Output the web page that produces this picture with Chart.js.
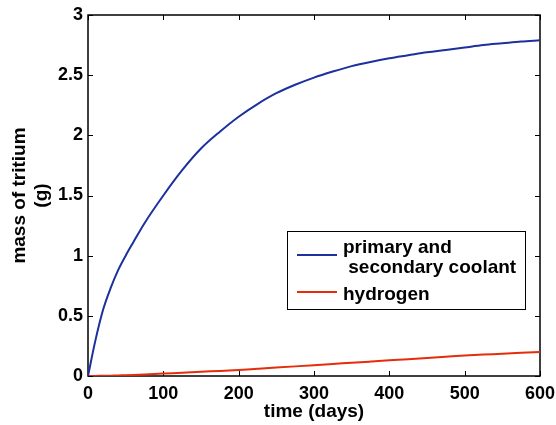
<!DOCTYPE html>
<html>
<head>
<meta charset="utf-8">
<script src="https://cdn.jsdelivr.net/npm/chart.js@4"></script>
<style>
    html, body { margin: 0; padding: 0; background: #fff; }
    #wrap { width: 556px; height: 425px; }
</style>
</head>
<body>
<div id="wrap"><canvas id="tritium-plot"></canvas></div>
<script>
// time in days
const days = [0, 10, 20, 30, 40, 50, 60, 75, 100, 125, 150, 175, 200, 225, 250, 275, 300,
              325, 350, 375, 400, 425, 450, 475, 500, 525, 550, 575, 600];
// mass of tritium (g)
const coolantMass = [0, 0.30, 0.55, 0.73, 0.88, 1.0, 1.11, 1.27, 1.50, 1.71, 1.89, 2.03, 2.155,
                     2.26, 2.35, 2.42, 2.48, 2.53, 2.575, 2.61, 2.64, 2.665, 2.69, 2.71, 2.73,
                     2.75, 2.765, 2.78, 2.79];
const hydrogenMass = [0, 0.001, 0.002, 0.003, 0.005, 0.006, 0.008, 0.012, 0.02, 0.027, 0.035, 0.042, 0.05,
                      0.06, 0.07, 0.08, 0.09, 0.1, 0.11, 0.12, 0.13, 0.14, 0.15, 0.16, 0.17,
                      0.178, 0.185, 0.193, 0.2];
const xTicks = [0, 100, 200, 300, 400, 500, 600];
const yTicks = [0, 0.5, 1, 1.5, 2, 2.5, 3];
const seriesLabels = [['primary and', ' secondary coolant'], ['hydrogen']];

function toPoints(values) {
    let pts = [];
    for (let i = 0; i < days.length; i++) {
        pts.push({x: days[i], y: values[i]});
    }
    return pts;
}

const FONT = "'Liberation Sans', Arial, sans-serif";
Chart.defaults.font.family = FONT;
Chart.defaults.font.weight = 'bold';
Chart.defaults.color = '#000';

// matlab style box with inward ticks
const boxPlugin = {
    id: 'box',
    beforeDatasetsDraw(chart) {
        const ctx = chart.ctx;
        const a = chart.chartArea;
        const xs = chart.scales.x, ys = chart.scales.y;
        ctx.save();
        ctx.strokeStyle = '#000';
        ctx.lineWidth = 1;
        ctx.beginPath();
        for (const t of xTicks) {
            const px = Math.round(xs.getPixelForValue(t)) + 0.5;
            ctx.moveTo(px, a.bottom); ctx.lineTo(px, a.bottom - 5);
            ctx.moveTo(px, a.top); ctx.lineTo(px, a.top + 5);
        }
        for (const t of yTicks) {
            const py = Math.round(ys.getPixelForValue(t)) + 0.5;
            ctx.moveTo(a.left, py); ctx.lineTo(a.left + 5, py);
            ctx.moveTo(a.right, py); ctx.lineTo(a.right - 5, py);
        }
        ctx.stroke();
        ctx.lineWidth = 1.5;
        ctx.strokeRect(a.left, a.top, a.right - a.left, a.bottom - a.top);
        ctx.restore();
    }
};

// legend box inside the axes
const legendPlugin = {
    id: 'boxLegend',
    afterDraw(chart) {
        const ctx = chart.ctx;
        ctx.save();
        ctx.fillStyle = '#fff';
        ctx.fillRect(287.5, 231.5, 238, 78);
        ctx.strokeStyle = '#000';
        ctx.lineWidth = 1;
        ctx.strokeRect(287.5, 231.5, 238, 78);
        ctx.font = 'bold 19px ' + FONT;
        ctx.textBaseline = 'alphabetic';
        ctx.fillStyle = '#000';
        const rows = [
            {lineY: 255, textY: [252.5, 272.5]},
            {lineY: 292, textY: [299.5]}
        ];
        chart.data.datasets.forEach((ds, i) => {
            const r = rows[i];
            ctx.strokeStyle = ds.borderColor;
            ctx.lineWidth = 2;
            ctx.beginPath();
            ctx.moveTo(297, r.lineY);
            ctx.lineTo(337, r.lineY);
            ctx.stroke();
            const lines = seriesLabels[i];
            for (let j = 0; j < lines.length; j++) {
                ctx.fillText(lines[j], 343, r.textY[j]);
            }
        });
        ctx.restore();
    }
};

let chart = document.getElementById('tritium-plot').getContext('2d');
let ch = new Chart(chart, {
    type: 'line',
    data: {
        datasets: [{
            label: 'primary and secondary coolant',
            data: toPoints(coolantMass),
            borderColor: 'rgb(28, 48, 158)',
            borderWidth: 2,
            pointRadius: 0,
            cubicInterpolationMode: 'monotone'
        }, {
            label: 'hydrogen',
            data: toPoints(hydrogenMass),
            borderColor: 'rgb(228, 45, 10)',
            borderWidth: 2,
            pointRadius: 0,
            cubicInterpolationMode: 'monotone'
        }]
    },
    options: {
        responsive: true,
        maintainAspectRatio: false,
        animation: false,
        layout: {
            padding: {top: 15, right: 16, left: 0, bottom: 0}
        },
        plugins: {
            legend: {display: false},
            tooltip: {enabled: false}
        },
        scales: {
            x: {
                type: 'linear',
                min: 0,
                max: 600,
                afterFit(scale) {
                    scale.height = 49;
                    scale.paddingLeft = 0;
                    scale.paddingRight = 0;
                },
                afterBuildTicks(scale) { scale.ticks = xTicks.map(v => ({value: v})); },
                grid: {display: false, drawTicks: false},
                border: {display: false},
                ticks: {
                    padding: 7,
                    font: {size: 18, weight: 'bold'},
                    color: '#000',
                    maxRotation: 0,
                    callback: v => String(v)
                },
                title: {
                    display: true,
                    text: 'time (days)',
                    font: {size: 19, weight: 'bold'},
                    color: '#000',
                    padding: {top: 0, bottom: 2}
                }
            },
            y: {
                min: 0,
                max: 3,
                afterFit(scale) {
                    scale.width = 88;
                    scale.paddingTop = 0;
                    scale.paddingBottom = 0;
                },
                afterBuildTicks(scale) { scale.ticks = yTicks.map(v => ({value: v})); },
                grid: {display: false, drawTicks: false},
                border: {display: false},
                ticks: {
                    padding: 5,
                    font: {size: 18, weight: 'bold'},
                    color: '#000',
                    callback: v => String(v)
                },
                title: {
                    display: true,
                    text: ['mass of tritium', '(g)'],
                    font: {size: 19, weight: 'bold'},
                    color: '#000',
                    padding: {top: 8, bottom: 0}
                }
            }
        }
    },
    plugins: [boxPlugin, legendPlugin]
});
</script>
</body>
</html>
